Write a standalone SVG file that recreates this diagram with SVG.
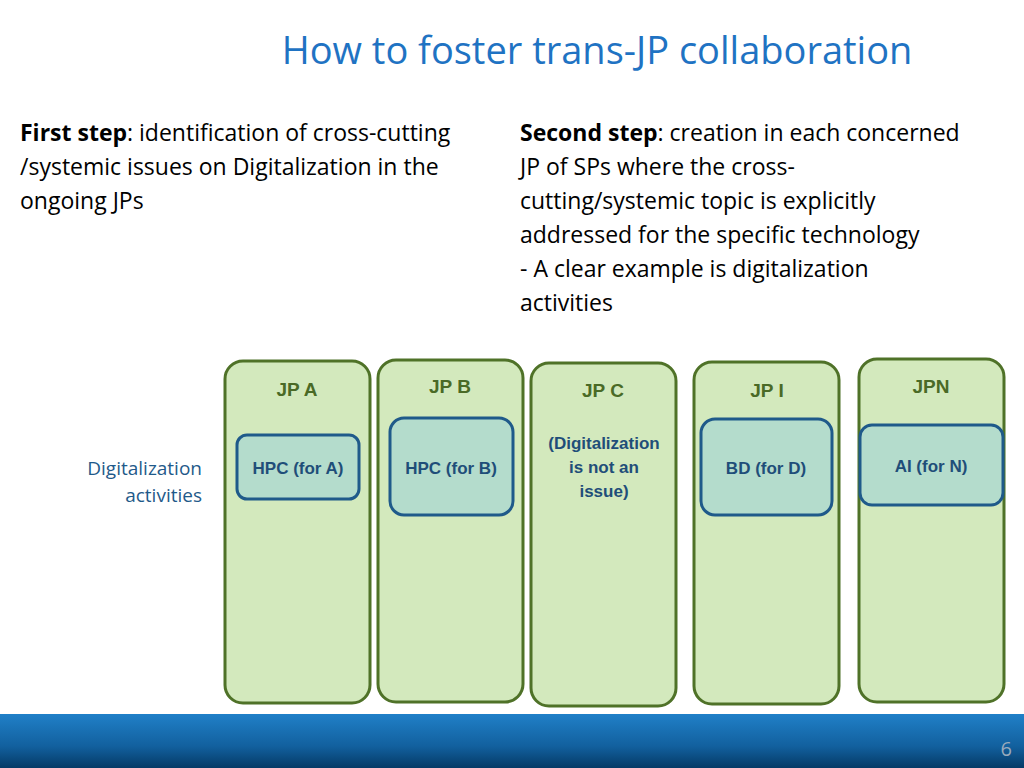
<svg xmlns="http://www.w3.org/2000/svg" width="1024" height="768" viewBox="0 0 1024 768">
<defs>
<linearGradient id="bar" x1="0" y1="0" x2="0" y2="1"><stop offset="0" stop-color="#2080c8"/><stop offset="0.6" stop-color="#12609e"/><stop offset="1" stop-color="#053a66"/></linearGradient>
<style>
.jp{fill:#d3e9bd;stroke:#4f7228;stroke-width:3}
.sp{fill:#b4dccc;stroke:#1f5a8a;stroke-width:3}
.t{font-family:"Open Sans","Liberation Sans",sans-serif;font-size:23px;fill:#000}
.h{font-family:"Liberation Sans",Arial,sans-serif;font-weight:bold;font-size:19px;fill:#4a6a26;text-anchor:middle}
.s{font-family:"Liberation Sans",Arial,sans-serif;font-weight:bold;font-size:17px;fill:#1f4e79;text-anchor:middle}
</style>
</defs>
<rect width="1024" height="768" fill="#fff"/>
<text x="597" y="64" text-anchor="middle" font-family="Open Sans,Liberation Sans,sans-serif" font-size="38" fill="#1f73c3">How to foster trans-JP collaboration</text>
<text class="t" x="20" y="141"><tspan font-weight="bold">First step</tspan>: identification of cross-cutting</text>
<text class="t" x="20" y="175">/systemic issues on Digitalization in the</text>
<text class="t" x="20" y="209">ongoing JPs</text>
<text class="t" x="520" y="141"><tspan font-weight="bold">Second step</tspan>: creation in each concerned</text>
<text class="t" x="520" y="175">JP of SPs where  the cross-</text>
<text class="t" x="520" y="209">cutting/systemic topic is explicitly</text>
<text class="t" x="520" y="243">addressed for the specific technology</text>
<text class="t" x="520" y="277">- A clear example is digitalization</text>
<text class="t" x="520" y="311">activities</text>
<g font-family="Open Sans,Liberation Sans,sans-serif" font-size="19" fill="#1f5a8a" text-anchor="end">
<text x="202" y="475">Digitalization</text><text x="202" y="502">activities</text></g>
<g id="jpA"><rect class="jp" x="225" y="361" width="145" height="342" rx="18"/><text class="h" x="297" y="396">JP A</text>
<rect class="sp" x="237" y="435" width="122" height="64" rx="10"/><text class="s" x="298" y="474">HPC (for A)</text></g>
<g id="jpB"><rect class="jp" x="378" y="360" width="145" height="342" rx="18"/><text class="h" x="450" y="393">JP B</text>
<rect class="sp" x="390" y="418" width="123" height="97" rx="14"/><text class="s" x="451" y="474">HPC (for B)</text></g>
<g id="jpC"><rect class="jp" x="531" y="363" width="145" height="343" rx="18"/><text class="h" x="603" y="397">JP C</text>
<text class="s" x="604" y="449">(Digitalization</text><text class="s" x="604" y="473">is not an</text><text class="s" x="604" y="497">issue)</text></g>
<g id="jpI"><rect class="jp" x="694" y="362" width="145" height="342" rx="18"/><text class="h" x="767" y="397">JP I</text>
<rect class="sp" x="701" y="419" width="131" height="96" rx="14"/><text class="s" x="766" y="474">BD (for D)</text></g>
<g id="jpN"><rect class="jp" x="859" y="359" width="145" height="343" rx="18"/><text class="h" x="931" y="393">JPN</text>
<rect class="sp" x="860" y="425" width="143" height="80" rx="12"/><text class="s" x="931" y="472">AI (for N)</text></g>
<g id="connectors"/>
<rect x="0" y="714" width="1024" height="54" fill="url(#bar)"/>
<text x="1012" y="756" text-anchor="end" font-family="Open Sans,Liberation Sans,sans-serif" font-size="20" fill="#9ab">6</text>
</svg>
